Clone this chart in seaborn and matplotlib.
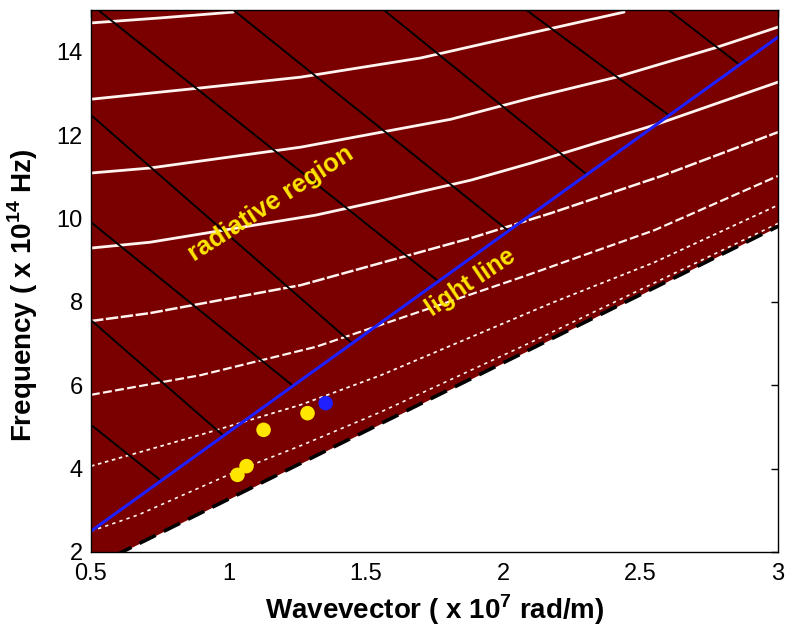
import numpy as np
import pandas as pd
import matplotlib
matplotlib.use("Agg")
import matplotlib.pyplot as plt
import seaborn as sns

# ---------------- data ----------------
# lower boundary (substrate light line, dashed) and the light line (blue)
boundary_x = [0.5, 3.0]
boundary_y = [1.63, 9.81]
light_x = [0.5, 3.0]
light_y = [2.50, 14.35]

# white band curves
c1_x = [0.5, 0.752, 1.018]
c1_y = [14.69, 14.81, 14.95]
c2_x = [0.5, 0.898, 1.263, 1.70, 2.102, 2.44]
c2_y = [12.86, 13.13, 13.39, 13.85, 14.45, 14.95]
c3_x = [0.5, 0.715, 1.263, 1.81, 2.102, 2.412, 2.77, 3.0]
c3_y = [11.09, 11.21, 11.71, 12.38, 12.89, 13.39, 14.09, 14.59]
c4_x = [0.5, 0.715, 1.318, 1.566, 1.883, 2.102, 2.555, 3.0]
c4_y = [9.29, 9.43, 10.08, 10.44, 10.92, 11.33, 12.25, 13.27]
c5_x = [0.5, 0.715, 1.263, 1.883, 2.175, 2.577, 3.0]
c5_y = [7.54, 7.73, 8.40, 9.53, 10.13, 11.02, 12.07]
c6_x = [0.5, 0.898, 1.318, 2.066, 2.551, 3.0]
c6_y = [5.77, 6.24, 6.92, 8.59, 9.72, 11.02]
c7_x = [0.5, 0.898, 1.263, 1.555, 2.175, 2.551, 3.0]
c7_y = [4.06, 4.81, 5.53, 6.24, 7.97, 8.95, 10.32]
c8_x = [0.5, 0.672, 1.055, 1.263, 1.555, 2.066, 3.0]
c8_y = [2.50, 2.89, 4.01, 4.55, 5.36, 6.92, 9.88]

# black diagonal lines (start -> end on the light line)
diag_x0 = [0.526, 1.018, 1.566, 2.084, 2.602, 0.5, 0.5, 0.5, 0.5]
diag_y0 = [15.0, 15.0, 15.0, 15.0, 15.0, 12.48, 9.91, 7.56, 5.05]
diag_x1 = [1.763, 2.018, 2.303, 2.602, 2.858, 1.45, 1.234, 0.982, 0.755]
diag_y1 = [8.50, 9.71, 11.06, 12.48, 13.70, 7.01, 5.99, 4.79, 3.71]

# measured points
yellow_x = [1.033, 1.066, 1.128, 1.288]
yellow_y = [3.85, 4.06, 4.93, 5.33]
blue_pt_x = [1.354]
blue_pt_y = [5.57]

x_ticks = [0.5, 1, 1.5, 2, 2.5, 3]
x_tick_labels = ["0.5", "1", "1.5", "2", "2.5", "3"]
y_ticks = [2, 4, 6, 8, 10, 12, 14]

# ---------------- style ----------------
sns.set_style("white")
plt.rcParams["font.family"] = ["Liberation Sans", "DejaVu Sans"]
plt.rcParams["mathtext.fontset"] = "custom"
plt.rcParams["mathtext.rm"] = "Liberation Sans"
plt.rcParams["mathtext.bf"] = "Liberation Sans:bold"
plt.rcParams["text.color"] = "black"
plt.rcParams["axes.labelcolor"] = "black"

RED = "#7a0000"
BLUE = "#1f1fff"
YELLOW = "#ffe600"

fig = plt.figure(figsize=(7.94, 6.38), dpi=100)
ax = fig.add_axes([0.1146, 0.1348, 0.8652, 0.8495])

ax.fill_between(boundary_x, boundary_y, 15, color=RED, lw=0, zorder=1)

curves = [(c1_x, c1_y), (c2_x, c2_y), (c3_x, c3_y), (c4_x, c4_y),
          (c5_x, c5_y), (c6_x, c6_y), (c7_x, c7_y), (c8_x, c8_y)]
styles = ["-", "-", "-", "-", (0, (5, 1)), (0, (4, 1.5)), (0, (2, 2)), (0, (2, 2.5))]
widths = [2.0, 2.0, 2.0, 2.0, 1.8, 1.6, 1.3, 1.2]
for (cx, cy), ls, lw in zip(curves, styles, widths):
    df = pd.DataFrame({"k": cx, "f": cy})
    sns.lineplot(data=df, x="k", y="f", ax=ax, color="#fff4f0", lw=lw,
                 linestyle=ls, sort=False, zorder=2)

for x0, y0, x1, y1 in zip(diag_x0, diag_y0, diag_x1, diag_y1):
    sns.lineplot(x=[x0, x1], y=[y0, y1], ax=ax, color="black", lw=1.4,
                 sort=False, zorder=3)

sns.lineplot(x=boundary_x, y=boundary_y, ax=ax, color="black", lw=2.6,
             linestyle=(0, (5, 2.5)), zorder=3)
sns.lineplot(x=light_x, y=light_y, ax=ax, color=BLUE, lw=2.2, zorder=4)

sns.scatterplot(x=yellow_x, y=yellow_y, ax=ax, color=YELLOW, s=110,
                edgecolor="none", zorder=5)
sns.scatterplot(x=blue_pt_x, y=blue_pt_y, ax=ax, color=BLUE, s=110,
                edgecolor="none", zorder=5)

ax.text(1.153, 10.35, "radiative region", color=YELLOW, fontsize=18.5,
        fontweight="bold", rotation=33, ha="center", va="center", zorder=6)
ax.text(1.883, 8.47, "light line", color=YELLOW, fontsize=18,
        fontweight="bold", rotation=34, ha="center", va="center", zorder=6)

ax.set_xlim(0.5, 3)
ax.set_ylim(2, 15)
ax.set_xticks(x_ticks)
ax.set_xticklabels(x_tick_labels)
ax.set_yticks(y_ticks)
ax.tick_params(direction="in", top=True, right=True, length=5, width=1,
               labelsize=17, colors="black")
ax.tick_params(axis="x", pad=8)
ax.tick_params(axis="y", pad=6)
for s in ax.spines.values():
    s.set_color("black")
    s.set_linewidth(1.0)
    s.set_zorder(7)

ax.set_xlabel(r"Wavevector ( x 10$^{\mathbf{7}}$ rad/m)", fontsize=20,
              fontweight="bold", labelpad=5, color="black")
ax.set_ylabel(r"Frequency ( x 10$^{\mathbf{14}}$ Hz)", fontsize=20,
              fontweight="bold", color="black")
ax.yaxis.set_label_coords(-0.074, 0.474)

fig.savefig("out.png", dpi=100)
